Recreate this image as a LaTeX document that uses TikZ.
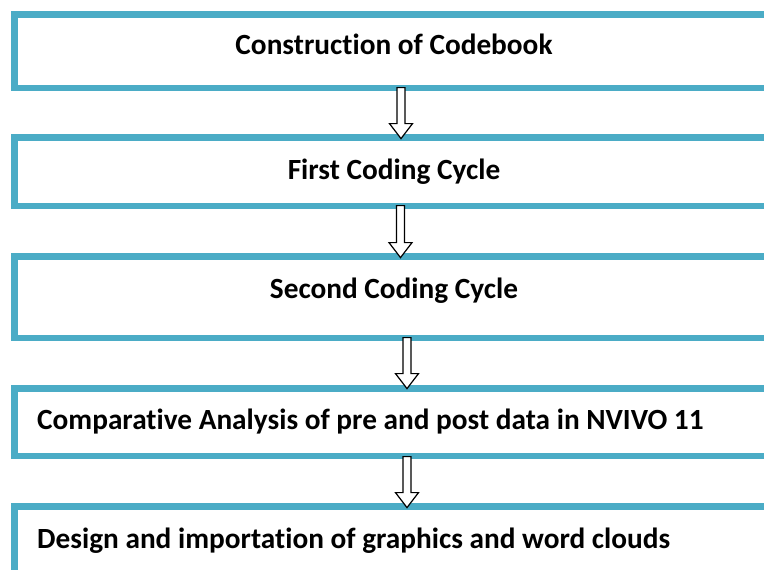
\documentclass[tikz,border=0pt]{standalone}
\usepackage{fontspec}
\setmainfont[Ligatures=CommonOff]{Carlito}
\usetikzlibrary{shapes.arrows}
\definecolor{boxteal}{HTML}{4BACC6}
\tikzset{
  stagebox/.style={draw=boxteal, line width=6.5pt, fill=white},
  stagetext/.style={font=\fontsize{29.3}{33}\selectfont\bfseries, inner sep=0pt, anchor=base},
  stagetextL/.style={font=\fontsize{29.3}{33}\selectfont\bfseries, inner sep=0pt, anchor=base west},
  blockarrow/.style={single arrow, draw=black, fill=white, line width=1.2pt,
    shape border rotate=270, inner sep=3.4pt, single arrow head extend=7.5pt,
    single arrow tip angle=75, minimum height=51pt, anchor=tail}
}
\begin{document}
\begin{tikzpicture}[x=1pt,y=-1pt]
\useasboundingbox (0,0) rectangle (764,570);
\clip (0,0) rectangle (764,570);
\fill[white] (0,0) rectangle (764,570);
% boxes
\draw[stagebox] (14.25,14.25) rectangle (800,87.75);
\draw[stagebox] (14.25,137.25) rectangle (800,205.75);
\draw[stagebox] (14.25,256.25) rectangle (800,337.75);
\draw[stagebox] (14.25,388.25) rectangle (800,455.75);
\draw[stagebox] (14.25,506.25) rectangle (800,600);
% texts
\node[stagetext] (t1) at (394,54.5) {Construction of Codebook};
\node[stagetext] (t2) at (394,179.5) {First Coding Cycle};
\node[stagetext] (t3) at (394,298.5) {Second Coding Cycle};
\node[stagetextL] (t4) at (37,429.5) {Comparative Analysis of pre and post data in NVIVO 11};
\node[stagetextL] (t5) at (37,548.5) {Design and importation of graphics and word clouds};
% arrows
\coordinate (a1) at (401,87);
\coordinate (a2) at (400.5,205);
\coordinate (a3) at (407,337);
\coordinate (a4) at (407,456);
\node[blockarrow, minimum height=51pt] (ar1) at (a1) {};
\node[blockarrow, minimum height=52pt] (ar2) at (a2) {};
\node[blockarrow, minimum height=51pt] (ar3) at (a3) {};
\node[blockarrow, minimum height=51pt] (ar4) at (a4) {};
\end{tikzpicture}
\end{document}
